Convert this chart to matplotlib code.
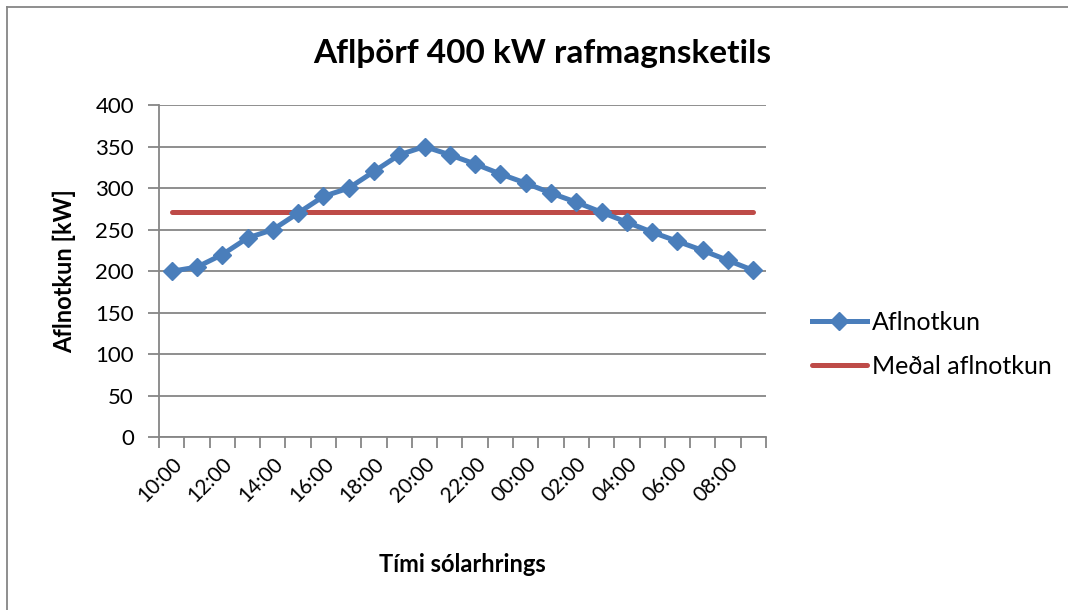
import numpy as np
import matplotlib.pyplot as plt
from matplotlib.lines import Line2D

plt.rcParams['font.family'] = ['Lato', 'DejaVu Sans']

hours = ["10:00", "11:00", "12:00", "13:00", "14:00", "15:00", "16:00", "17:00",
         "18:00", "19:00", "20:00", "21:00", "22:00", "23:00", "00:00", "01:00",
         "02:00", "03:00", "04:00", "05:00", "06:00", "07:00", "08:00", "09:00"]
power_kw = [200, 205, 220, 240, 250, 270, 290, 300, 320, 340, 350, 340,
            329, 317, 306, 294, 283, 271, 259, 247, 236, 225, 213, 201]
mean_kw = [np.mean(power_kw)] * len(power_kw)

blue = "#4A7EBB"
red = "#BE4B48"
grid_gray = "#868686"

fig = plt.figure(figsize=(10.68, 6.10), dpi=100)
ax = fig.add_axes([0.1489, 0.2828, 0.5683, 0.5451])

x = np.arange(len(hours))
ax.plot(x, power_kw, color=blue, linewidth=3.6, marker='D', markersize=9.5,
        markerfacecolor=blue, markeredgecolor=blue, label="Aflnotkun", zorder=3)
ax.plot(x, mean_kw, color=red, linewidth=3.6, solid_capstyle='round',
        label="Meðal aflnotkun", zorder=2)

ax.set_xlim(-0.5, len(hours) - 0.5)
ax.set_ylim(0, 400)
ax.set_yticks(range(0, 401, 50))
ax.yaxis.grid(True, color=grid_gray, linewidth=1.3)
ax.set_axisbelow(True)

# category ticks sit between the hours, labels every second hour
ax.set_xticks(np.arange(-0.5, len(hours), 1.0), minor=False)
ax.set_xticklabels([])
ax.set_xticks(x[::2], minor=True)
ax.set_xticklabels(hours[::2], minor=True, rotation=45, ha='right',
                   rotation_mode='anchor', fontsize=15)
ax.tick_params(axis='x', which='major', length=8, width=1.3, color=grid_gray, direction='out')
ax.tick_params(axis='x', which='minor', length=0, pad=12)
ax.tick_params(axis='y', length=8, width=1.3, color=grid_gray, labelsize=16, pad=10)

for side in ('top', 'right'):
    ax.spines[side].set_visible(False)
for side in ('left', 'bottom'):
    ax.spines[side].set_color(grid_gray)
    ax.spines[side].set_linewidth(1.3)

ax.set_ylabel("Aflnotkun [kW]", fontsize=17, fontweight='bold', labelpad=14)
ax.set_xlabel("Tími sólarhrings", fontsize=17, fontweight='bold', labelpad=34)
fig.text(0.508, 0.912, "Aflþörf 400 kW rafmagnsketils", fontsize=24,
         fontweight='bold', ha='center', va='center')

ax.legend(loc='center left', bbox_to_anchor=(1.059, 0.28), frameon=False,
          fontsize=18, handlelength=2.2, handletextpad=0.2, labelspacing=0.85,
          borderaxespad=0)

# thin frame on the left and top of the chart area
fig.add_artist(Line2D([0.007, 0.007], [0.0, 0.989], transform=fig.transFigure,
                      color=grid_gray, linewidth=1.3))
fig.add_artist(Line2D([0.007, 1.0], [0.989, 0.989], transform=fig.transFigure,
                      color=grid_gray, linewidth=1.3))

fig.savefig("out.png", dpi=100)
